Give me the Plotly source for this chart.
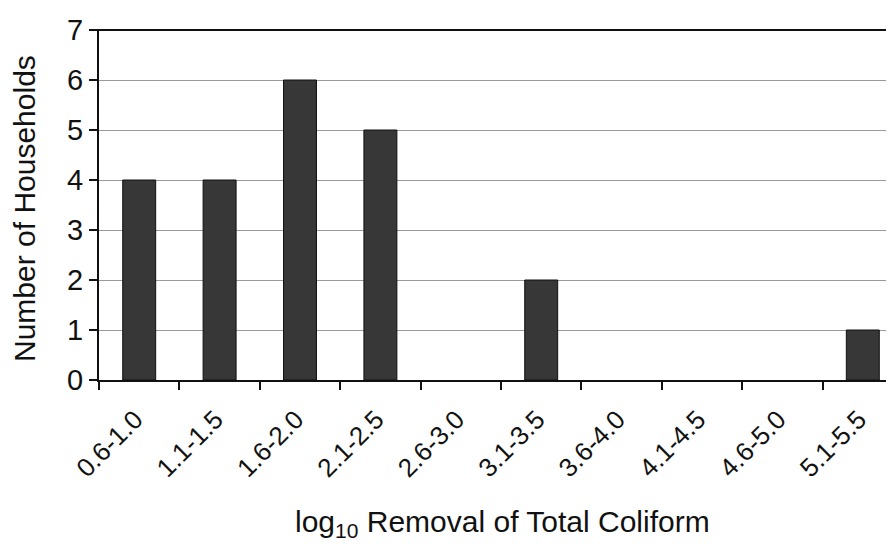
import plotly.graph_objects as go

categories = ["0.6-1.0", "1.1-1.5", "1.6-2.0", "2.1-2.5", "2.6-3.0",
              "3.1-3.5", "3.6-4.0", "4.1-4.5", "4.6-5.0", "5.1-5.5"]
households = [4, 4, 6, 5, 0, 2, 0, 0, 0, 1]
y_ticks = [0, 1, 2, 3, 4, 5, 6, 7]

FONT = "Liberation Sans, Arial, sans-serif"
INK = "#111111"

# page body adds an 8px offset; figure sized/placed to compensate
W, H = 886, 536
ML, MT, MB = 91, 22, 164
PLOT_W = W - ML
PLOT_H = H - MT - MB

fig = go.Figure(go.Bar(
    x=categories, y=households,
    marker=dict(color="#373737",
                line=dict(color=INK, width=[1 if v > 0 else 0 for v in households])),
))

fig.update_layout(
    width=W, height=H,
    margin=dict(l=ML, r=0, t=MT, b=MB),
    paper_bgcolor="white", plot_bgcolor="white",
    bargap=0.59, showlegend=False,
    font=dict(family=FONT, color=INK),
)

fig.update_xaxes(
    type="category", range=[-0.5, 9.388], fixedrange=True,
    showline=True, linecolor=INK, linewidth=2,
    ticks="outside", tickson="boundaries", ticklen=8, tickwidth=2, tickcolor=INK,
    tickangle=-45, tickfont=dict(size=26, family=FONT, color=INK),
    ticklabelstandoff=12, ticklabelshift=-4,
    showgrid=False,
    automargin=False,
)

fig.update_yaxes(
    range=[0, 7], tickvals=y_ticks, fixedrange=True,
    showline=True, linecolor=INK, linewidth=2,
    ticks="outside", ticklen=8, tickwidth=2, tickcolor=INK,
    tickfont=dict(size=29, family=FONT, color=INK),
    ticksuffix="\u2009 ",
    showgrid=True, gridcolor="#9a9a9a", gridwidth=1,
    zeroline=False,
    automargin=False,
)

# darker top line at y=7
fig.add_shape(type="line", xref="paper", yref="paper", x0=-0.01, x1=1, y0=1, y1=1,
              line=dict(color=INK, width=2))

# axis titles
fig.add_annotation(
    text="log<sub>10</sub> Removal of Total Coliform",
    xref="paper", yref="paper",
    x=(502 - 8 - ML) / PLOT_W, y=-(515 - (MT + PLOT_H)) / PLOT_H,
    xanchor="center", yanchor="middle", showarrow=False,
    font=dict(size=30, family=FONT, color=INK),
)
fig.add_annotation(
    text="Number of Households",
    xref="paper", yref="paper",
    x=(16 - ML) / PLOT_W, y=(MT + PLOT_H - 201) / PLOT_H,
    xanchor="center", yanchor="middle", textangle=-90, showarrow=False,
    font=dict(size=30, family=FONT, color=INK),
)

fig.write_html("out.html", config={"displayModeBar": False})
